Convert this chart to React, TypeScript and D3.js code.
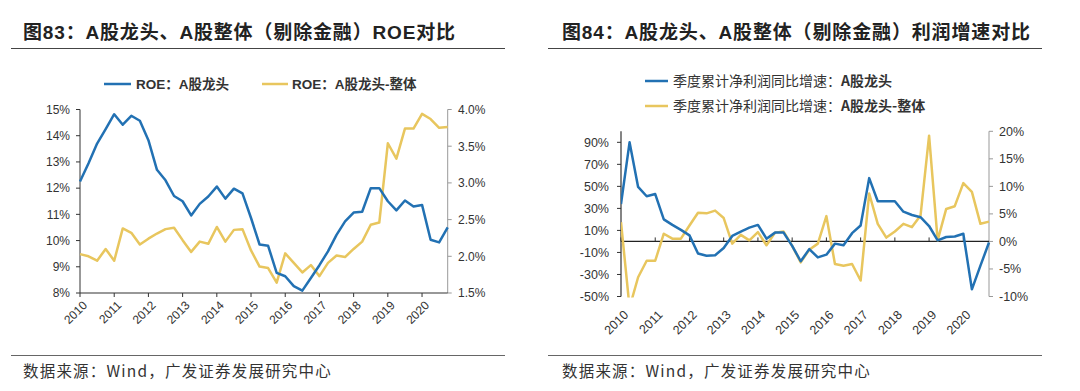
import * as d3 from "d3";

// quarterly data, 2010Q1 .. 2020Q4
const years = ["2010", "2011", "2012", "2013", "2014", "2015", "2016", "2017", "2018", "2019", "2020"];
const quarters = years.flatMap((y) => ["Q1", "Q2", "Q3", "Q4"].map((q) => y + q));

// 图83 ROE (%)
const roeLeader = [
  12.25, 12.95, 13.7, 14.25, 14.82, 14.42, 14.76, 14.57, 13.83, 12.7, 12.3, 11.7, 11.5, 10.96, 11.4,
  11.68, 12.06, 11.6, 11.98, 11.8, 10.86, 9.85, 9.8, 8.77, 8.64, 8.26, 8.09, 8.57, 9.06, 9.59, 10.22,
  10.73, 11.07, 11.1, 12.0, 12.0, 11.5, 11.15, 11.53, 11.3, 11.36, 10.03, 9.93, 10.5,
];
const roeDiff = [
  2.03, 2.0, 1.94, 2.1, 1.94, 2.38, 2.32, 2.16, 2.24, 2.31, 2.37, 2.39, 2.22, 2.06, 2.2, 2.17, 2.4,
  2.2, 2.36, 2.37, 2.08, 1.86, 1.84, 1.64, 2.04, 1.91, 1.78, 1.88, 1.73, 1.91, 2.01, 1.99, 2.1, 2.2,
  2.43, 2.46, 3.54, 3.33, 3.74, 3.74, 3.94, 3.87, 3.75, 3.76,
];
const roeLeftTicks = [8, 9, 10, 11, 12, 13, 14, 15];
const roeRightTicks = [1.5, 2.0, 2.5, 3.0, 3.5, 4.0];

// 图84 profit growth (%)
const profitLeader = [
  34, 90, 49.5, 41, 43, 20, 15, 10.5, 5.5, -11, -13, -12.5, -6, 5, 9, 12.5, 15, 2.5, 8, 8, -4, -18,
  -7, -14.5, -12, -2, -3.5, 7.5, 14.5, 57.5, 36.5, 36.5, 36.5, 27, 24, 22, 14, 1, 4, 4.5, 7, -43.5,
  -22, -1,
];
const profitDiff = [
  3.5, -12, -6.5, -3.5, -3.5, 1.4, 0.5, 0.5, 2.9, 5.2, 5.1, 5.6, 4.25, -0.4, 1.2, 0.2, 1.7, -0.7,
  1.6, 1.8, -0.8, -3.8, -1.5, -0.4, 4.6, -4.1, -4.4, -4.1, -7.1, 8.7, 3.2, 0.7, 1.8, 3.2, 2.6, 4.7,
  19.2, 0.2, 5.9, 6.4, 10.6, 9.0, 3.2, 3.6,
];
const profitLeftTicks = [-50, -30, -10, 10, 30, 50, 70, 90];
const profitRightTicks = [-10, -5, 0, 5, 10, 15, 20];

const BLUE = "#2271b3";
const GOLD = "#e8c65e";
const FONT = "'Liberation Sans', Arial, 'Noto Sans CJK SC', sans-serif";

const Header = ({ x0, x1, tx, title, tlen }: any) => (
  <g>
    <text x={tx} y={39} fontFamily={FONT} fontWeight="bold" fontSize={19} fill="#222"
      textLength={tlen} lengthAdjust="spacing">{title}</text>
    <line x1={x0} x2={x1} y1={48.5} y2={48.5} stroke="#444" strokeWidth={1} />
    <line x1={x0} x2={x1} y1={355.5} y2={355.5} stroke="#666" strokeWidth={1} />
    <text x={tx} y={377} fontFamily="'Noto Sans CJK SC', sans-serif" fontSize={15.5} fill="#333"
      letterSpacing={1.2}>数据来源：Wind，广发证券发展研究中心</text>
  </g>
);

const RoeChart = () => {
  const x = d3.scaleLinear().domain([0, quarters.length - 1]).range([80, 447.7]);
  const yL = d3.scaleLinear().domain([8, 15]).range([293, 109.5]);
  const yR = d3.scaleLinear().domain([1.5, 4.0]).range([293, 109.5]);
  const lineL = d3.line<number>().x((_, i) => x(i)).y((d) => yL(d));
  const lineR = d3.line<number>().x((_, i) => x(i)).y((d) => yR(d));
  const yb = yL.range()[0];
  return (
    <g fontFamily={FONT} fontSize={12} fill="#333">
      {/* legend */}
      <line x1={104} x2={131} y1={84} y2={84} stroke={BLUE} strokeWidth={2.5} />
      <text x={136} y={88.5} fontWeight="bold" fontSize={13.5}>ROE：A股龙头</text>
      <line x1={262} x2={288} y1={84} y2={84} stroke={GOLD} strokeWidth={2.5} />
      <text x={292} y={88.5} fontWeight="bold" fontSize={13.5}>ROE：A股龙头-整体</text>

      {/* axes */}
      <line x1={80} x2={80} y1={109.5} y2={yb} stroke="#333" />
      {roeLeftTicks.map((t) => (
        <g key={t}>
          <line x1={76} x2={80} y1={yL(t)} y2={yL(t)} stroke="#333" />
          <text x={70} y={yL(t)} dy="0.36em" textAnchor="end">{t + "%"}</text>
        </g>
      ))}
      <line x1={447.7} x2={447.7} y1={109.5} y2={yb} stroke="#999" />
      {roeRightTicks.map((t) => (
        <g key={t}>
          <line x1={447.7} x2={451.7} y1={yR(t)} y2={yR(t)} stroke="#999" />
          <text x={458} y={yR(t)} dy="0.36em">{t.toFixed(1) + "%"}</text>
        </g>
      ))}
      {years.map((yr, k) => {
        const px = x(k * 4);
        return (
          <g key={yr}>
            <line x1={px} x2={px} y1={yb} y2={yb + 4} stroke="#333" />
            <text transform={`translate(${px + 5},${yb + 10}) rotate(-45)`} textAnchor="end" dy="0.35em">{yr}</text>
          </g>
        );
      })}

      <path d={lineR(roeDiff) ?? ""} fill="none" stroke={GOLD} strokeWidth={2.5} strokeLinejoin="round" />
      <path d={lineL(roeLeader) ?? ""} fill="none" stroke={BLUE} strokeWidth={2.5} strokeLinejoin="round" />
      <line x1={80} x2={447.7} y1={yb} y2={yb} stroke="#333" strokeWidth={1.2} />
    </g>
  );
};

const ProfitChart = () => {
  const x = d3.scaleLinear().domain([0, quarters.length - 1]).range([621, 989]);
  const yL = d3.scaleLinear().domain([-50, 100]).range([296.5, 131.3]);
  const yR = d3.scaleLinear().domain([-10, 20]).range([296.5, 131.3]);
  const lineL = d3.line<number>().x((_, i) => x(i)).y((d) => yL(d));
  const lineR = d3.line<number>().x((_, i) => x(i)).y((d) => yR(d));
  const y0 = yL(0);
  const yb = 296.5;
  return (
    <g fontFamily={FONT} fontSize={12.5} fill="#333">
      <defs>
        <clipPath id="clip84">
          <rect x={621} y={128} width={370} height={yb - 128 + 1} />
        </clipPath>
      </defs>
      {/* legend */}
      <line x1={645} x2={668} y1={81} y2={81} stroke={BLUE} strokeWidth={2.5} />
      <text x={673} y={86} fontSize={14} fontFamily="'Noto Sans CJK SC', sans-serif">
        季度累计净利润同比增速：<tspan fontWeight="bold">A股龙头</tspan>
      </text>
      <line x1={645} x2={668} y1={106} y2={106} stroke={GOLD} strokeWidth={2.5} />
      <text x={673} y={111} fontSize={14} fontFamily="'Noto Sans CJK SC', sans-serif">
        季度累计净利润同比增速：<tspan fontWeight="bold">A股龙头-整体</tspan>
      </text>

      <line x1={621} x2={621} y1={131.3} y2={yb} stroke="#333" strokeWidth={1.2} />
      {profitLeftTicks.map((t) => (
        <g key={t}>
          <line x1={617} x2={621} y1={yL(t)} y2={yL(t)} stroke="#333" />
          <text x={609} y={yL(t)} dy="0.36em" textAnchor="end">{t + "%"}</text>
        </g>
      ))}
      <line x1={989} x2={989} y1={131.3} y2={yb} stroke="#999" />
      {profitRightTicks.map((t) => (
        <g key={t}>
          <line x1={989} x2={993} y1={yR(t)} y2={yR(t)} stroke="#999" />
          <text x={999} y={yR(t)} dy="0.36em">{t + "%"}</text>
        </g>
      ))}
      {years.map((yr, k) => {
        const px = x(k * 4);
        return (
          <g key={yr}>
            <line x1={px} x2={px} y1={y0} y2={y0 - 4} stroke="#333" />
            <text transform={`translate(${px + 5},${yb + 16}) rotate(-45)`} textAnchor="end" dy="0.35em">{yr}</text>
          </g>
        );
      })}
      <line x1={621} x2={989} y1={y0} y2={y0} stroke="#222" strokeWidth={1.3} />

      <g clipPath="url(#clip84)">
        <path d={lineR(profitDiff) ?? ""} fill="none" stroke={GOLD} strokeWidth={2.5} strokeLinejoin="round" />
        <path d={lineL(profitLeader) ?? ""} fill="none" stroke={BLUE} strokeWidth={2.5} strokeLinejoin="round" />
      </g>
    </g>
  );
};

export default function App() {
  return (
    <svg width={1080} height={391} style={{ position: "absolute", left: 0, top: 0, background: "#fff" }}>
      <rect width={1080} height={391} fill="#fff" />
      <Header x0={11} x1={505} tx={23} tlen={432} title="图83：A股龙头、A股整体（剔除金融）ROE对比" />
      <Header x0={548} x1={1042} tx={562} tlen={468} title="图84：A股龙头、A股整体（剔除金融）利润增速对比" />
      <RoeChart />
      <ProfitChart />
    </svg>
  );
}
